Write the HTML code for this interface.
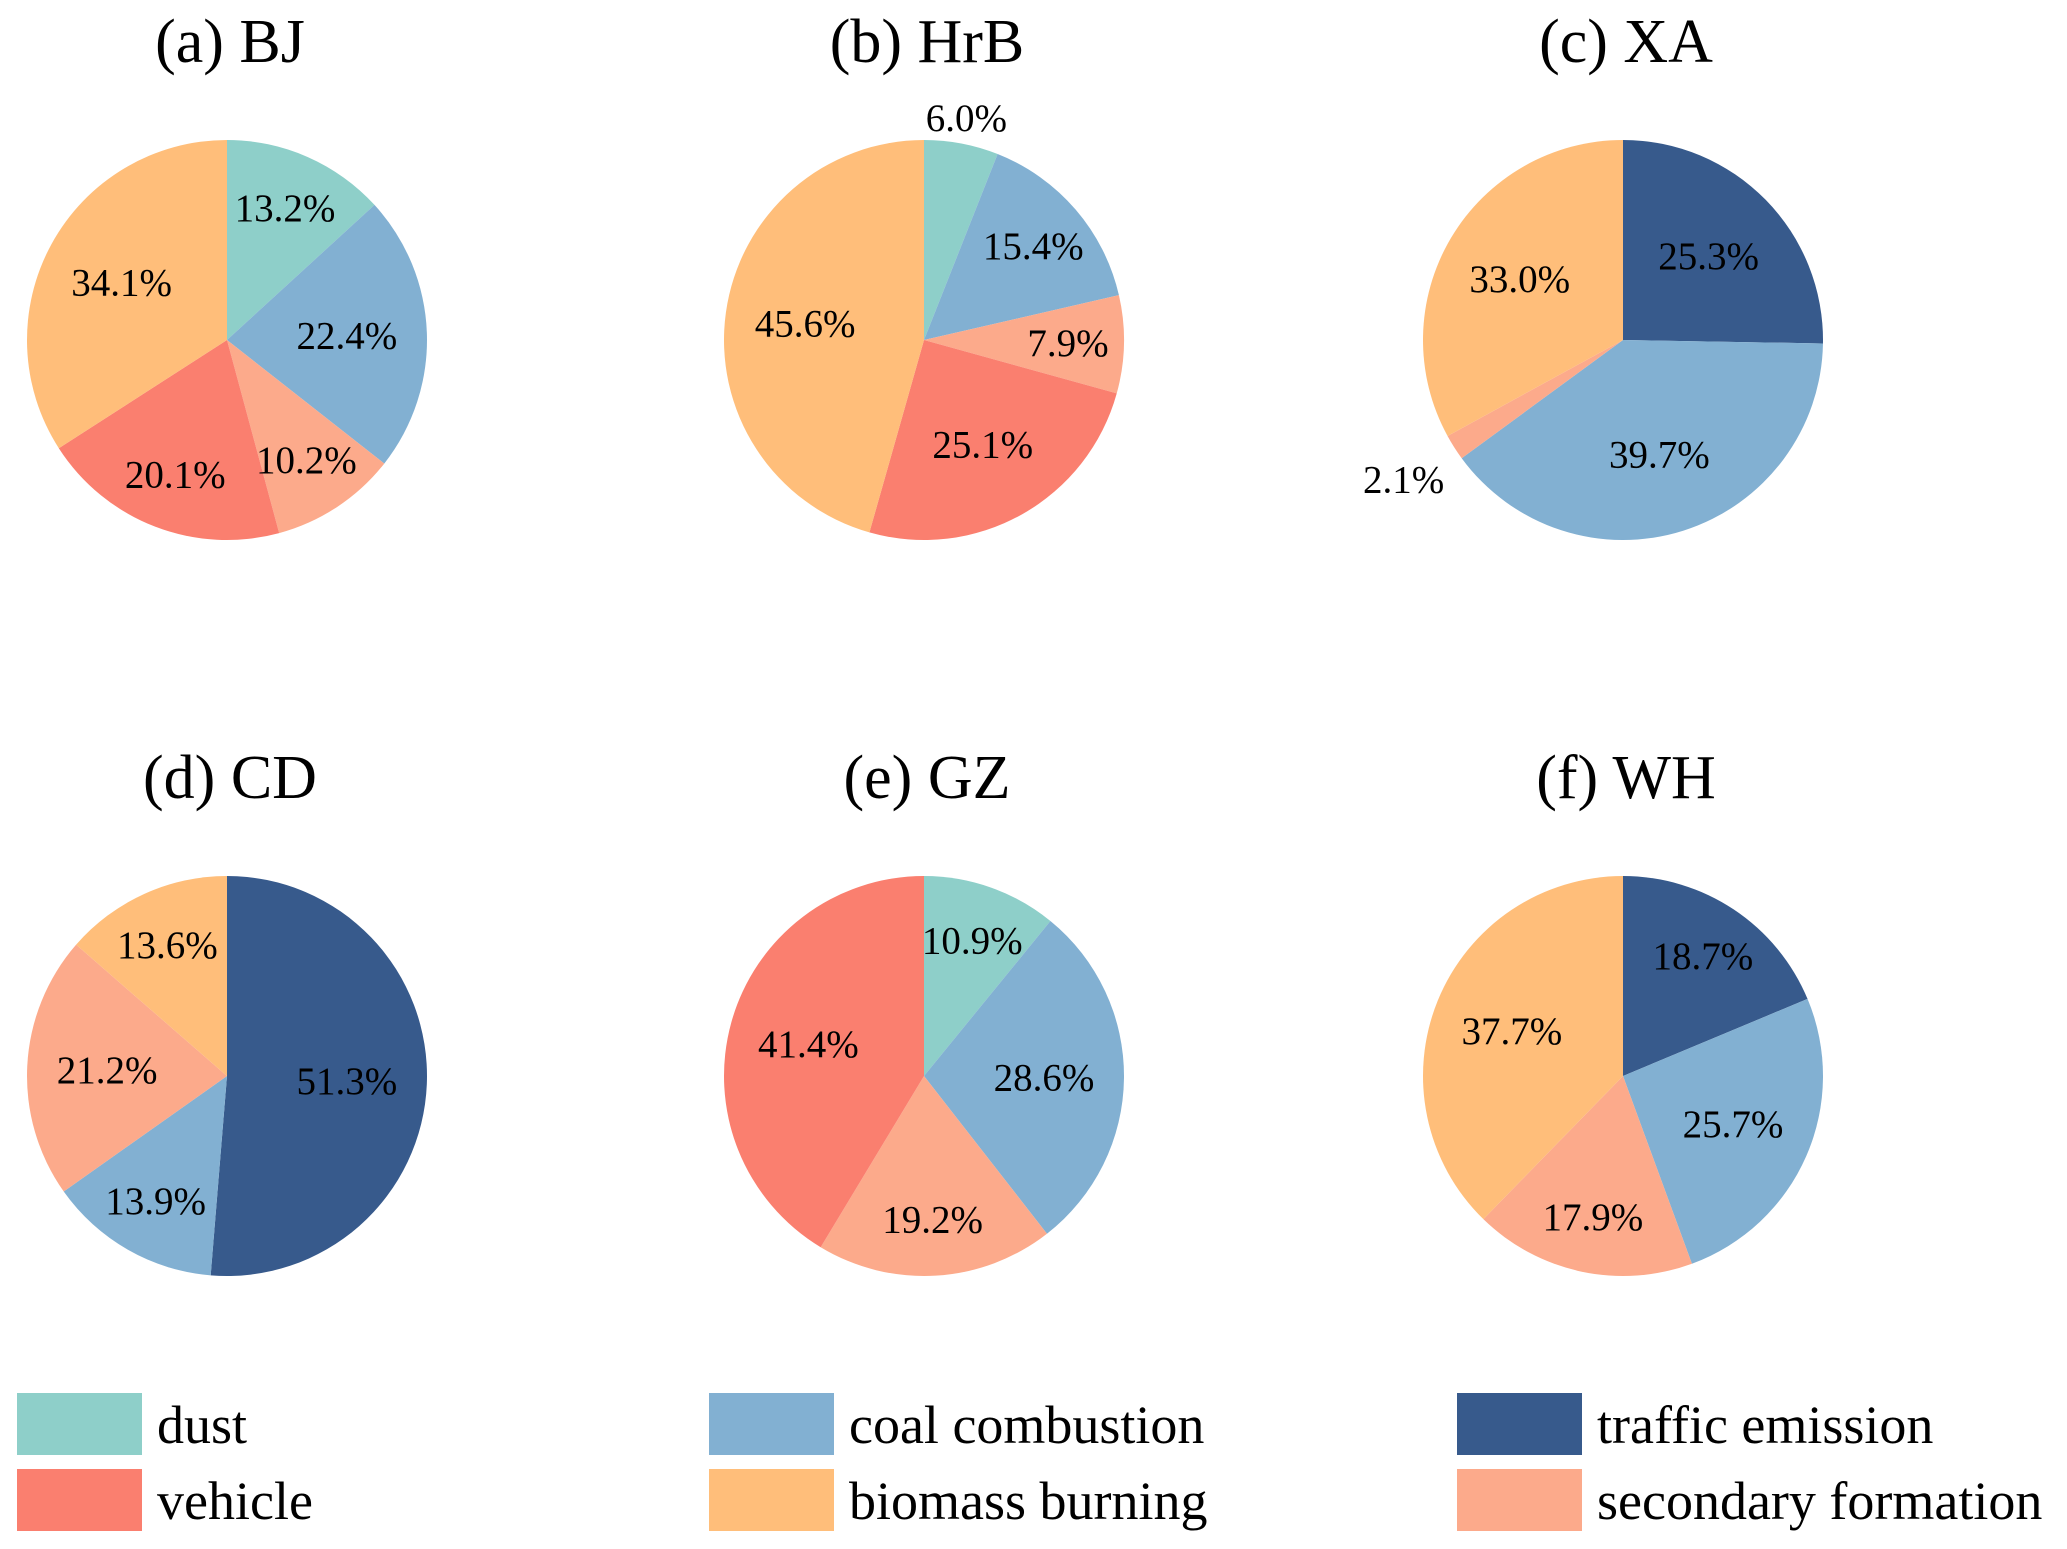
<!DOCTYPE html>
<html><head><meta charset="utf-8"><style>
html,body{margin:0;padding:0;background:#fff}
svg{display:block;font-family:"Liberation Serif",serif}
</style></head><body>
<svg id="chart" width="2067" height="1549" viewBox="0 0 2067 1549" xmlns="http://www.w3.org/2000/svg"></svg>
<script>
const titles = ["(a) BJ","(b) HrB","(c) XA","(d) CD","(e) GZ","(f) WH"];
const cats_a = ["dust","coal","secondary","vehicle","biomass"];
const vals_a = [13.2,22.4,10.2,20.1,34.1];
const cats_b = ["dust","coal","secondary","vehicle","biomass"];
const vals_b = [6.0,15.4,7.9,25.1,45.6];
const cats_c = ["traffic","coal","secondary","biomass"];
const vals_c = [25.3,39.7,2.1,33.0];
const cats_d = ["traffic","coal","secondary","biomass"];
const vals_d = [51.3,13.9,21.2,13.6];
const cats_e = ["dust","coal","secondary","vehicle"];
const vals_e = [10.9,28.6,19.2,41.4];
const cats_f = ["traffic","coal","secondary","biomass"];
const vals_f = [18.7,25.7,17.9,37.7];
const legendKeys = ["dust","vehicle","coal","biomass","traffic","secondary"];
const legendLabels = ["dust","vehicle","coal combustion","biomass burning","traffic emission","secondary formation"];

const colors = {dust:"#8ecfc9",coal:"#82b0d2",traffic:"#375a8c",secondary:"#fcaa8b",vehicle:"#fa7f6f",biomass:"#ffbe7a"};
const NS="http://www.w3.org/2000/svg";
const svg=document.getElementById('chart');
function mk(tag,attrs,parent){const e=document.createElementNS(NS,tag);for(const k in attrs)e.setAttribute(k,attrs[k]);(parent||svg).appendChild(e);return e;}
const pies=[[cats_a,vals_a],[cats_b,vals_b],[cats_c,vals_c],[cats_d,vals_d],[cats_e,vals_e],[cats_f,vals_f]];
const cxs=[227,924,1623], cys=[340,1076], R=200;
function pt(cx,cy,r,frac){const a=frac*2*Math.PI;return [cx+r*Math.sin(a),cy-r*Math.cos(a)];}
pies.forEach((p,i)=>{
  const cx=cxs[i%3], cy=cys[Math.floor(i/3)];
  const g=mk('g',{});
  
  
  const t=mk('text',{x:cx+3,y:cy-278,'text-anchor':'middle','font-size':62,fill:'#000'},g);
  t.textContent=titles[i];
  
  
  const [cats,vals]=p; const total=vals.reduce((a,b)=>a+b,0);
  let acc=0;
  vals.forEach((v,j)=>{
    const f0=acc/total, f1=(acc+v)/total; acc+=v;
    const [x0,y0]=pt(cx,cy,R,f0),[x1,y1]=pt(cx,cy,R,f1);
    const large=(f1-f0)>0.5?1:0;
    const s=mk('path',{d:`M${cx},${cy} L${x0},${y0} A${R},${R} 0 ${large} 1 ${x1},${y1} Z`,fill:colors[cats[j]]},g);
    
    
  });
  acc=0;
  vals.forEach((v,j)=>{
    const mid=(acc+v/2)/total; acc+=v;
    const d=v<3?1.3:(v<7?1.13:(v<21?0.72:0.6));
    const [lx,ly]=pt(cx,cy,R*d,mid);
    const l=mk('text',{x:lx,y:ly+13,'text-anchor':'middle','font-size':39,fill:'#000'},g);
    l.textContent=v.toFixed(1)+'%';
    
    
  });
});
const lx=[17,709,1457], ly=[1393,1469];
legendKeys.forEach((k,i)=>{
  const col=Math.floor(i/2), row=i%2;
  const g=mk('g',{});
  
  
  mk('rect',{x:lx[col],y:ly[row],width:125,height:62,fill:colors[k]},g);
  const t=mk('text',{x:lx[col]+140,y:ly[row]+50,'font-size':54,fill:'#000'},g);
  t.textContent=legendLabels[i];
});
</script>
</body></html>
